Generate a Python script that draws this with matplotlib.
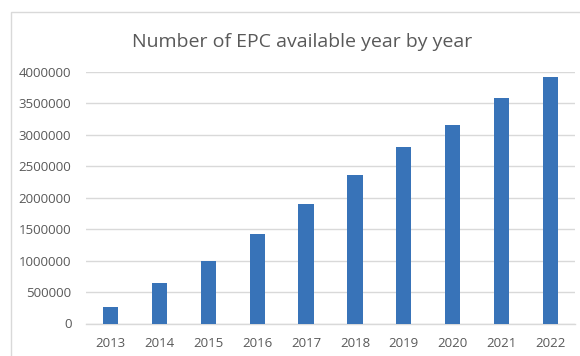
import matplotlib
matplotlib.use("Agg")
import matplotlib.pyplot as plt
from matplotlib.patches import Rectangle

years = ["2013", "2014", "2015", "2016", "2017", "2018", "2019", "2020", "2021", "2022"]
epc_counts = [258000, 641000, 986000, 1423000, 1901000, 2357000, 2804000, 3155000, 3585000, 3920000]
y_ticks = [0, 500000, 1000000, 1500000, 2000000, 2500000, 3000000, 3500000, 4000000]

W, H = 580, 356
fig = plt.figure(figsize=(W / 100, H / 100), dpi=100)
fig.patch.set_facecolor("white")

# chart frame
fig.patches.append(Rectangle((11 / W, -0.1), 1.2, 1 - 11.7 / H + 0.1,
                             transform=fig.transFigure, fill=False,
                             edgecolor="#d9d9d9", linewidth=1.0))

ax = fig.add_axes([86 / W, 1 - 323.5 / H, (575 - 86) / W, (323.5 - 71.9) / H])
x = list(range(len(years)))
ax.bar(x, epc_counts, width=0.31, color="#3873b8", zorder=3)

ax.set_xlim(-0.5, len(years) - 0.5)
ax.set_ylim(0, 4000000)
ax.set_yticks(y_ticks)
ax.set_yticklabels([str(v) for v in y_ticks])
ax.set_xticks(x)
ax.set_xticklabels(years)

ax.grid(axis="y", color="#d9d9d9", linewidth=1.0, zorder=0)
for side in ["top", "right", "left"]:
    ax.spines[side].set_visible(False)
ax.spines["bottom"].set_color("#d9d9d9")
ax.spines["bottom"].set_linewidth(1.0)
ax.tick_params(axis="both", length=0, labelsize=9.5, labelcolor="#595959")
ax.tick_params(axis="y", pad=10.5)
ax.tick_params(axis="x", pad=10)
for lbl in ax.get_xticklabels() + ax.get_yticklabels():
    lbl.set_family(["Open Sans", "DejaVu Sans"])

fig.text(302 / W, 1 - 42 / H, "Number of EPC available year by year",
         ha="center", va="center", fontsize=14, color="#595959",
         family=["Open Sans", "DejaVu Sans"])

fig.savefig("out.png", dpi=100)
